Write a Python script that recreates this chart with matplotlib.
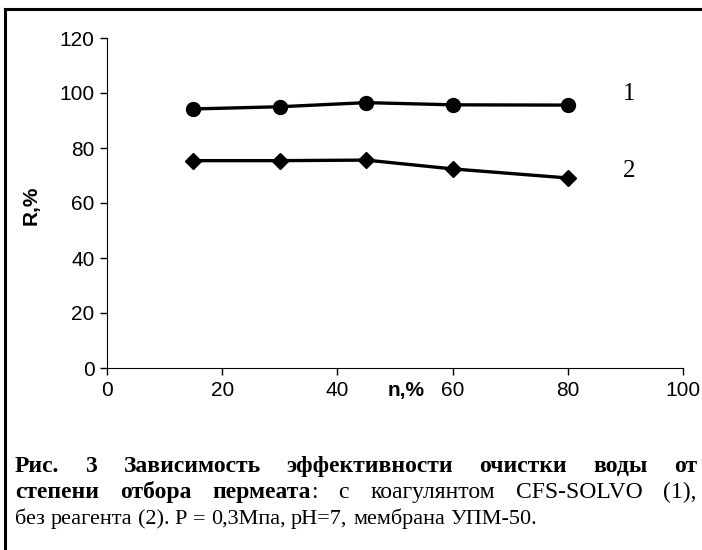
import matplotlib.pyplot as plt
from matplotlib.lines import Line2D

# data
n = [15, 30, 45, 60, 80]
r1 = [94.2, 95.0, 96.5, 95.7, 95.6]   # 1 - с коагулянтом CFS-SOLVO
r2 = [75.4, 75.4, 75.6, 72.4, 69.1]   # 2 - без реагента
xticks = [0, 20, 40, 60, 80, 100]
yticks = [0, 20, 40, 60, 80, 100, 120]

W, H = 702, 550
fig = plt.figure(figsize=(W / 100, H / 100), dpi=100)
ax = fig.add_axes([107 / W, 1 - 368 / H, 576 / W, 330 / H])

ax.plot(n, r1, color='black', lw=2.4, marker='o', ms=10)
ax.plot(n, r2, color='black', lw=2.4, marker='D', ms=8)

ax.set_xlim(0, 100)
ax.set_ylim(0, 120)
ax.set_xticks(xticks)
ax.set_yticks(yticks)
ax.tick_params(labelsize=15, length=5, width=1, pad=4)
for lab in ax.get_xticklabels() + ax.get_yticklabels():
    lab.set_family('Liberation Sans')
ax.spines['top'].set_visible(False)
ax.spines['right'].set_visible(False)

ax.set_xlabel('n,%', fontsize=15, fontweight='bold', family='Liberation Sans')
ax.xaxis.set_label_coords(0.52, -0.04)
ax.set_ylabel('R,%', fontsize=15, fontweight='bold', family='Liberation Sans')
ax.yaxis.set_label_coords(-0.115, 0.494)

ax.text(90.6, 99.7, '1', fontsize=18, family='Liberation Serif', ha='center', va='center')
ax.text(90.6, 71.7, '2', fontsize=18, family='Liberation Serif', ha='center', va='center')

# frame of the scanned figure
fig.add_artist(Line2D([5 / W, 5 / W], [0, 1 - 9 / H], color='black', lw=2.2))
fig.add_artist(Line2D([5 / W, 1], [1 - 9 / H, 1 - 9 / H], color='black', lw=2.2))

# caption, justified lines drawn word by word
fig.canvas.draw()
rend = fig.canvas.get_renderer()
left, right = 15, 697


def put_line(parts, y, fs, justify):
    # parts: list of groups, each group a list of (text, bold) glued together
    texts, gw = [], []
    for g in parts:
        row = []
        for w, b in g:
            t = fig.text(0, 1 - y / H, w, fontsize=fs, family='Liberation Serif',
                         fontweight='bold' if b else 'normal', va='baseline')
            row.append((t, t.get_window_extent(rend).width))
        texts.append(row)
        gw.append(sum(wd for _, wd in row))
    if justify:
        gap = (right - left - sum(gw)) / (len(parts) - 1)
    else:
        gap = fs * 0.25 * 100 / 72
    x = left
    for row in texts:
        for t, wd in row:
            t.set_x(x / W)
            x += wd
        x += gap


line1 = [[(w, True)] for w in 'Рис. 3 Зависимость эффективности очистки воды от'.split()]
line2 = [[('степени', True)], [('отбора', True)], [('пермеата', True), (':', False)]]
line2 += [[(w, False)] for w in 'с коагулянтом CFS-SOLVO (1),'.split()]
line3 = [[(w, False)] for w in 'без реагента (2). P = 0,3Мпа, pH=7, мембрана УПМ-50.'.split()]

put_line(line1, 472, 17, True)
put_line(line2, 498, 17, True)
put_line(line3, 524, 16, False)

fig.savefig('out.png', dpi=100)
